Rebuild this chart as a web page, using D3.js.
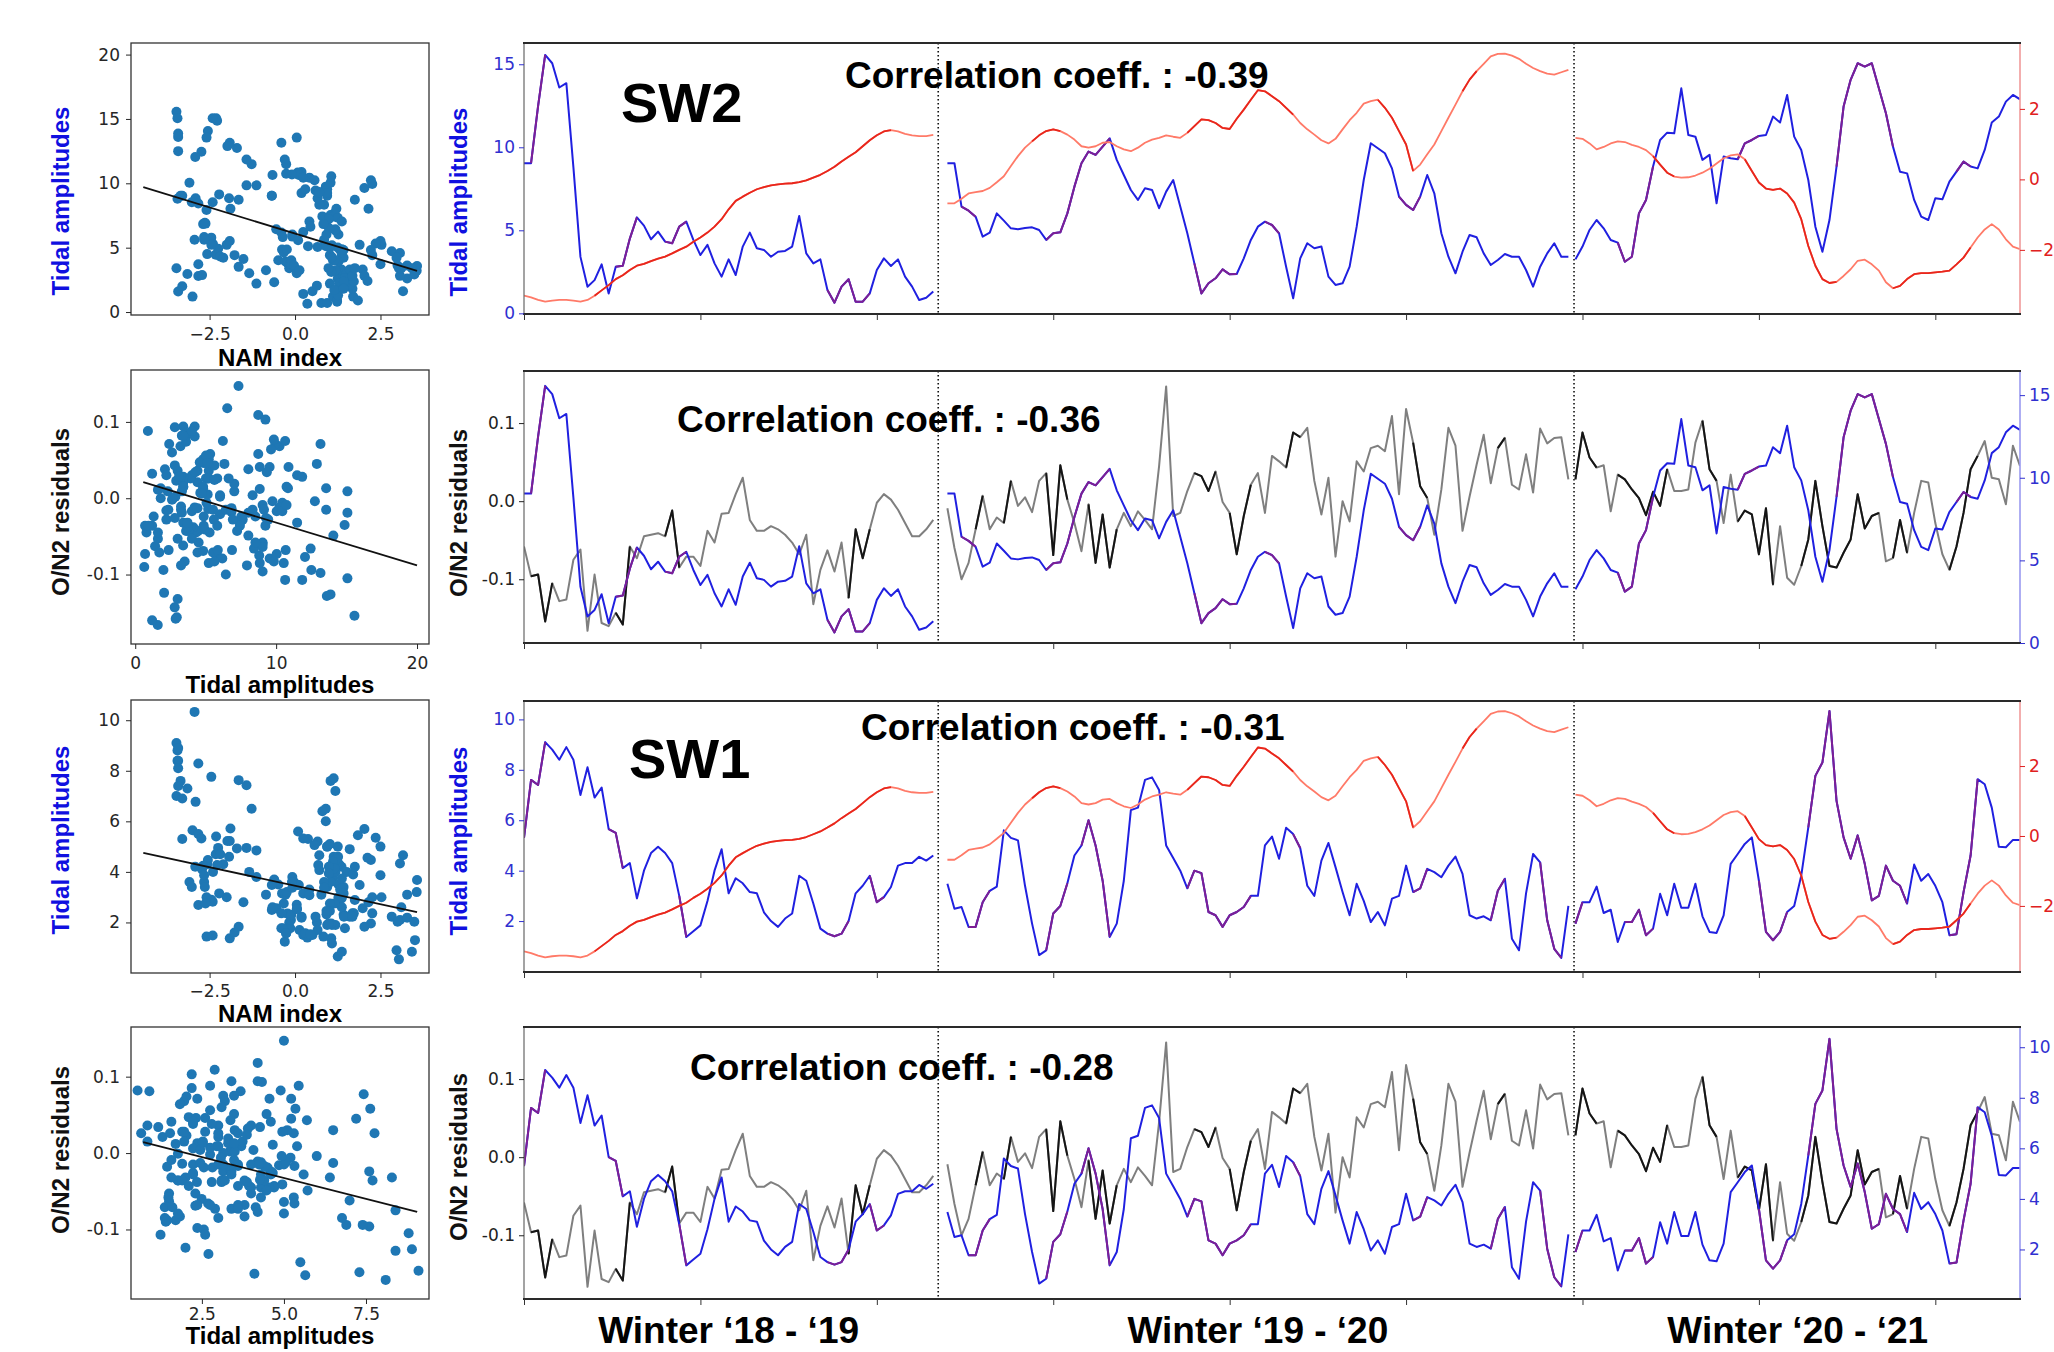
<!DOCTYPE html>
<html><head><meta charset="utf-8">
<script src="https://cdn.jsdelivr.net/npm/d3@7"></script>
<style>body{margin:0;background:#fff}svg{display:block}</style>
</head><body>
<svg id="chart" width="2054" height="1352"></svg>
<script>
// ---------------- DATA ----------------
// first sample index of each winter (samples are equally spaced)
const winterStart = [0, 60, 149];
const winterBreaks = [58.7, 148.8];
const winterLabels = ["Winter \u201818 - \u201819", "Winter \u201819 - \u201820", "Winter \u201820 - \u201821"];
const xTickValues = [0, 25, 50, 75, 100, 125, 150, 175, 200];

// SW2 tidal amplitudes, one array per winter
const sw2Amp = [
 [9.04,9.04,12.5,15.56,15.06,13.6,13.86,8.8,3.4,1.6,2.0,2.95,1.2,2.8,2.87,4.5,5.78,5.28,4.46,4.92,4.32,4.22,5.22,5.52,4.42,3.51,4.12,3.01,2.21,3.25,2.31,4.02,4.86,3.92,3.82,3.41,3.71,3.76,4.02,5.86,3.61,3.01,3.25,1.41,0.64,1.61,2.05,0.70,0.70,1.2,2.61,3.31,2.85,3.25,2.21,1.61,0.80,0.94,1.31],
 [9.04,9.04,6.43,6.18,5.82,4.62,4.86,6.02,5.58,5.12,5.06,5.14,5.18,5.02,4.42,4.82,4.88,6.02,7.63,9.04,9.74,9.54,10.04,10.54,9.24,8.33,7.43,6.83,7.53,7.43,6.33,7.33,8.03,6.43,4.82,3.01,1.20,1.81,2.11,2.65,2.35,2.37,3.31,4.42,5.22,5.52,5.32,4.82,2.81,0.90,3.31,4.22,3.92,4.02,2.21,1.71,1.81,2.81,5.22,8.03,10.24,9.94,9.64,8.73,7.03,6.53,6.22,7.03,8.33,7.23,4.82,3.41,2.41,3.71,4.72,4.58,3.61,2.91,3.21,3.57,3.41,3.41,2.61,1.61,2.81,3.61,4.22,3.41,3.41],
 [3.25,4.02,5.02,5.62,5.12,4.42,4.26,3.11,3.41,6.02,6.83,8.84,10.44,10.88,10.84,13.55,10.74,10.64,9.24,9.54,6.63,9.44,9.34,9.28,10.24,10.44,10.68,10.74,11.85,11.49,13.15,10.64,9.84,8.03,5.22,3.71,5.62,8.84,12.45,14.06,15.06,14.86,15.06,13.55,12.05,10.04,8.53,8.43,6.83,5.82,5.62,6.93,6.87,7.93,8.53,9.14,8.84,8.73,9.84,11.49,11.85,12.75,13.15,12.89]
];
// SW1 tidal amplitudes
const sw1Amp = [
 [5.3,7.6,7.4,9.1,8.8,8.4,8.9,8.4,7.0,8.1,6.9,7.3,5.65,5.5,4.1,4.3,2.9,4.0,4.7,4.95,4.7,4.3,3.0,1.37,1.6,1.83,2.8,4.0,4.85,3.1,3.7,3.5,3.15,3.1,2.35,2.0,1.77,2.1,2.3,3.8,3.6,2.7,1.7,1.5,1.4,1.5,2.0,3.1,3.4,3.8,2.75,2.95,3.35,4.2,4.3,4.3,4.55,4.4,4.6],
 [3.48,2.49,2.56,1.77,1.77,2.75,3.2,3.37,5.6,5.3,5.2,3.4,1.9,0.65,0.84,2.3,2.6,3.5,4.6,5.0,6.0,5.0,3.6,1.37,1.9,3.6,6.4,6.5,7.6,7.7,7.2,5.0,4.5,4.0,3.3,4.0,3.9,2.36,2.23,1.77,2.23,2.36,2.56,3.0,3.0,5.0,5.35,4.47,5.7,5.45,4.9,3.4,3.0,4.4,5.1,4.14,3.15,2.23,3.48,2.8,1.96,2.36,1.83,2.89,3.0,4.2,3.15,3.3,4.07,3.94,3.74,4.2,4.56,3.87,2.23,2.1,2.19,2.03,3.2,3.68,1.3,0.84,3.1,4.66,4.33,2.03,0.9,0.54,2.6],
 [1.9,2.75,2.75,3.37,2.32,2.45,1.17,1.96,1.96,2.45,1.44,1.7,3.08,2.23,3.48,2.53,2.53,3.48,2.19,1.57,1.53,2.23,4.27,4.66,5.06,5.32,3.6,1.57,1.24,1.57,2.36,2.6,3.8,5.72,7.76,8.29,10.33,6.77,5.32,4.47,5.4,4.27,2.82,3.0,4.2,3.6,3.4,2.69,4.24,3.6,3.87,3.4,2.75,1.44,1.48,3.15,4.6,7.63,7.43,6.5,4.95,4.93,5.22,5.22]
];
// NAM index
const namIndex = [
 [-3.30,-3.35,-3.42,-3.47,-3.44,-3.42,-3.42,-3.44,-3.47,-3.42,-3.30,-3.15,-3.00,-2.83,-2.72,-2.57,-2.45,-2.40,-2.32,-2.25,-2.19,-2.10,-2.00,-1.91,-1.77,-1.65,-1.51,-1.34,-1.13,-0.85,-0.61,-0.49,-0.38,-0.28,-0.22,-0.17,-0.14,-0.12,-0.11,-0.08,-0.03,0.05,0.13,0.24,0.36,0.51,0.64,0.77,0.94,1.11,1.25,1.36,1.40,1.36,1.29,1.25,1.23,1.23,1.26],
 [-0.68,-0.68,-0.55,-0.40,-0.36,-0.33,-0.24,-0.08,0.09,0.38,0.66,0.90,1.08,1.25,1.37,1.42,1.37,1.27,1.13,0.94,0.90,0.94,1.04,1.06,0.94,0.85,0.80,0.90,1.04,1.13,1.18,1.25,1.21,1.18,1.32,1.51,1.70,1.68,1.60,1.46,1.43,1.72,1.98,2.26,2.53,2.50,2.36,2.22,2.03,1.84,1.60,1.42,1.27,1.11,1.02,1.15,1.42,1.68,1.89,2.15,2.22,2.26,2.03,1.75,1.37,0.99,0.24,0.42,0.71,0.99,1.37,1.75,2.12,2.50,2.83,3.07,3.28,3.49,3.56,3.57,3.51,3.42,3.28,3.16,3.07,3.00,2.97,3.04,3.11],
 [1.18,1.15,1.02,0.85,0.92,1.02,1.08,1.06,0.98,0.92,0.83,0.66,0.42,0.19,0.08,0.05,0.06,0.11,0.19,0.30,0.45,0.60,0.68,0.71,0.57,0.24,-0.09,-0.26,-0.30,-0.26,-0.40,-0.66,-1.13,-1.89,-2.45,-2.83,-2.94,-2.91,-2.74,-2.55,-2.31,-2.28,-2.41,-2.59,-2.92,-3.09,-3.02,-2.83,-2.69,-2.66,-2.66,-2.64,-2.62,-2.59,-2.41,-2.22,-1.93,-1.65,-1.42,-1.27,-1.42,-1.70,-1.91,-1.98]
];
// O/N2 residuals
const on2Resid = [
 [-0.058,-0.096,-0.094,-0.154,-0.105,-0.128,-0.126,-0.075,-0.062,-0.166,-0.094,-0.156,-0.160,-0.143,-0.158,-0.058,-0.073,-0.045,-0.043,-0.041,-0.045,-0.012,-0.085,-0.071,-0.071,-0.083,-0.038,-0.053,-0.016,-0.015,0.009,0.030,-0.024,-0.038,-0.038,-0.032,-0.036,-0.043,-0.053,-0.068,-0.043,-0.132,-0.088,-0.063,-0.090,-0.053,-0.124,-0.036,-0.073,-0.036,-0.002,0.009,0.002,-0.011,-0.028,-0.045,-0.045,-0.036,-0.024],
 [-0.009,-0.060,-0.100,-0.079,-0.036,0.007,-0.036,-0.021,-0.028,0.026,-0.006,0.005,-0.014,0.026,0.036,-0.069,0.046,0.002,-0.028,-0.064,-0.004,-0.079,-0.017,-0.085,-0.036,-0.015,-0.032,-0.013,-0.024,-0.036,0.045,0.147,-0.019,-0.015,0.013,0.036,0.032,0.013,0.038,-0.001,-0.015,-0.068,-0.019,0.021,0.036,-0.015,0.058,0.051,0.043,0.088,0.082,0.094,0.026,-0.017,0.030,-0.071,0.000,-0.026,0.051,0.038,0.068,0.071,0.064,0.109,0.009,0.118,0.075,0.019,0.004,-0.043,0.015,0.094,0.071,-0.038,0.006,0.047,0.085,0.023,0.068,0.081,0.021,0.015,0.060,0.011,0.093,0.074,0.081,0.082,0.028],
 [0.028,0.088,0.056,0.043,0.046,-0.013,0.034,0.028,0.015,0.004,-0.018,0.012,-0.006,0.041,0.013,0.013,0.015,0.075,0.103,0.041,0.026,-0.028,0.034,-0.026,-0.012,-0.017,-0.068,-0.009,-0.107,-0.032,-0.098,-0.107,-0.083,-0.049,0.026,-0.032,-0.083,-0.085,-0.066,-0.049,0.009,-0.035,-0.019,-0.015,-0.077,-0.073,-0.024,-0.066,-0.015,0.026,0.024,-0.028,-0.068,-0.088,-0.058,-0.015,0.041,0.058,0.077,0.030,0.028,-0.004,0.071,0.045]
];
// sample ranges drawn in the second colour of each line
const sw2Shade = [[1,3],[13,16],[20,23],[43,49],[62,64],[74,83],[95,101],[105,107],[124,127],[155,160],[172,175],[186,194],[203,205]];
const sw1Shade = [[0,3],[12,14],[22,23],[43,46],[49,51],[63,66],[74,77],[79,83],[94,103],[109,110],[126,128],[137,139],[144,147],[149,150],[156,160],[175,179],[182,196],[202,206]];
const namShade = [[10,52],[72,76],[94,109],[121,126],[133,135],[160,163],[173,186],[194,205]];
const on2Shade = [[1,4],[13,15],[20,22],[46,49],[64,65],[68,69],[74,77],[80,84],[95,98],[100,103],[108,110],[126,128],[138,139],[149,152],[155,162],[167,169],[172,177],[181,192],[194,196],[202,206]];

const corrCoeffs = ["-0.39", "-0.36", "-0.31", "-0.28"];
const bandNames = ["SW2", "SW1"];
// regression lines: [[x0,y0],[x1,y1]]
const fitNamSw2 = [[-4.44, 9.7], [3.57, 3.2]];
const fitSw2On2 = [[0.57, 0.021], [20.0, -0.088]];
const fitNamSw1 = [[-4.44, 4.75], [3.57, 2.41]];
const fitSw1On2 = [[0.71, 0.0144], [9.06, -0.077]];

// ---------------- DRAWING ----------------
const svg = d3.select("#chart");
const FB = "'Liberation Sans', Arial, sans-serif";
const FT = "'DejaVu Sans', sans-serif";
const BLUE = "#2020e0", PURPLE = "#7d1f94", RED = "#e8261c", SALMON = "#ff7a68", GRAY = "#7f7f7f", BLACK = "#151515";
const LBLUE = "#1010e0", TBLUE = "#3030d0", TRED = "#e02020";

const toPts = segs => segs.map((vals, w) => vals.map((v, k) => ({i: winterStart[w] + k, v})));
const SW2 = toPts(sw2Amp), SW1 = toPts(sw1Amp), NAM = toPts(namIndex), ON2 = toPts(on2Resid);
const flat = segs => segs.flat();
const byI = arr => { const m = new Map(); flat(arr).forEach(p => m.set(p.i, p.v)); return m; };

const xIdx = d3.scaleLinear().domain([0, 212]).range([524, 2020]);
const minus = s => s.replace("\u2212", "-");

function drawSeries(g, segs, y, base, alt, shade, width) {
  const line = d3.line().x(d => xIdx(d.i)).y(d => y(d.v));
  segs.forEach(pts => {
    g.append("path").attr("d", line(pts)).attr("fill", "none").attr("stroke", base)
      .attr("stroke-width", width).attr("stroke-linejoin", "round");
    shade.forEach(([a, b]) => {
      const sub = pts.filter(p => p.i >= a && p.i <= b);
      if (sub.length > 1) g.append("path").attr("d", line(sub)).attr("fill", "none").attr("stroke", alt)
        .attr("stroke-width", width).attr("stroke-linejoin", "round");
    });
  });
}

function styleAxis(a, color, size) {
  a.select(".domain").remove();
  a.selectAll(".tick line").attr("stroke", color).attr("stroke-width", 1);
  a.selectAll(".tick text").attr("fill", color).style("font-family", FT).style("font-size", size + "px");
}

const series = {
  sw2: {pts: SW2, base: BLUE, alt: PURPLE, shade: sw2Shade, w: 2},
  sw1: {pts: SW1, base: BLUE, alt: PURPLE, shade: sw1Shade, w: 2},
  nam: {pts: NAM, base: SALMON, alt: RED, shade: namShade, w: 1.8},
  on2: {pts: ON2, base: GRAY, alt: BLACK, shade: on2Shade, w: 2}
};

const tsPanels = [
  {top: 43, bottom: 314,
   L: {s: "sw2", dom: [-0.04, 16.28], ticks: [0, 5, 10, 15], fmt: d3.format("d"), color: TBLUE, spine: "#666"},
   R: {s: "nam", dom: [-3.82, 3.87], ticks: [-2, 0, 2], fmt: d3.format("d"), color: TRED, spine: "#f09a9a"},
   ylabel: "Tidal amplitudes", ycol: LBLUE, ly: 202, corr: [845, 88], band: [621, 122]},
  {top: 371, bottom: 643,
   L: {s: "on2", dom: [-0.1816, 0.1667], ticks: [-0.1, 0, 0.1], fmt: v => minus(d3.format(".1f")(v)), color: "#222", spine: "#666"},
   R: {s: "sw2", dom: [0, 16.46], ticks: [0, 5, 10, 15], fmt: d3.format("d"), color: TBLUE, spine: "#9a9af0"},
   ylabel: "O/N2 residuals", ycol: "#111", ly: 513, corr: [677, 432]},
  {top: 701, bottom: 972,
   L: {s: "sw1", dom: [-0.02, 10.73], ticks: [2, 4, 6, 8, 10], fmt: d3.format("d"), color: TBLUE, spine: "#666"},
   R: {s: "nam", dom: [-3.89, 3.86], ticks: [-2, 0, 2], fmt: d3.format("d"), color: TRED, spine: "#f09a9a"},
   ylabel: "Tidal amplitudes", ycol: LBLUE, ly: 841, corr: [861, 740], band: [629, 778]},
  {top: 1027, bottom: 1299,
   L: {s: "on2", dom: [-0.1816, 0.1667], ticks: [-0.1, 0, 0.1], fmt: v => minus(d3.format(".1f")(v)), color: "#222", spine: "#666"},
   R: {s: "sw1", dom: [0.04, 10.8], ticks: [2, 4, 6, 8, 10], fmt: d3.format("d"), color: TBLUE, spine: "#9a9af0"},
   ylabel: "O/N2 residuals", ycol: "#111", ly: 1157, corr: [690, 1080]}
];

tsPanels.forEach((P, pi) => {
  const g = svg.append("g");
  const yL = d3.scaleLinear().domain(P.L.dom).range([P.bottom, P.top]);
  const yR = d3.scaleLinear().domain(P.R.dom).range([P.bottom, P.top]);
  const x0 = xIdx.range()[0], x1 = xIdx.range()[1];

  // correlation text (under the lines)
  g.append("text").attr("x", P.corr[0]).attr("y", P.corr[1])
    .style("font-family", FB).style("font-weight", "bold").style("font-size", "37px").attr("fill", "#000")
    .text("Correlation coeff. : " + corrCoeffs[pi]);
  if (P.band) g.append("text").attr("x", P.band[0]).attr("y", P.band[1])
    .style("font-family", FB).style("font-weight", "bold").style("font-size", "56px").attr("fill", "#000")
    .text(bandNames[pi === 0 ? 0 : 1]);

  // winter separators
  winterBreaks.forEach(b => g.append("line").attr("x1", xIdx(b)).attr("x2", xIdx(b))
    .attr("y1", P.top).attr("y2", P.bottom).attr("stroke", "#111").attr("stroke-width", 1.6)
    .attr("stroke-dasharray", "1.6,2.4"));

  const clip = "clipP" + pi;
  svg.append("clipPath").attr("id", clip).append("rect")
    .attr("x", x0).attr("y", P.top).attr("width", x1 - x0).attr("height", P.bottom - P.top);
  const lg = g.append("g").attr("clip-path", `url(#${clip})`);
  const sL = series[P.L.s], sR = series[P.R.s];
  drawSeries(lg, sL.pts, yL, sL.base, sL.alt, sL.shade, sL.w);
  drawSeries(lg, sR.pts, yR, sR.base, sR.alt, sR.shade, sR.w);

  // spines
  g.append("line").attr("x1", x0).attr("x2", x0).attr("y1", P.top).attr("y2", P.bottom).attr("stroke", P.L.spine).attr("stroke-width", 1.2);
  g.append("line").attr("x1", x1).attr("x2", x1).attr("y1", P.top).attr("y2", P.bottom).attr("stroke", P.R.spine).attr("stroke-width", 1.6);
  [P.top, P.bottom].forEach(yy => g.append("line").attr("x1", x0 - 1).attr("x2", x1 + 1).attr("y1", yy).attr("y2", yy)
    .attr("stroke", "#2a2a2a").attr("stroke-width", 2.2));

  // axes
  const aL = g.append("g").attr("transform", `translate(${x0},0)`)
    .call(d3.axisLeft(yL).tickValues(P.L.ticks).tickFormat(P.L.fmt).tickSize(5).tickPadding(4));
  styleAxis(aL, P.L.color, 17);
  const aR = g.append("g").attr("transform", `translate(${x1},0)`)
    .call(d3.axisRight(yR).tickValues(P.R.ticks).tickFormat(P.R.fmt).tickSize(5).tickPadding(4));
  styleAxis(aR, P.R.color, 17);
  const aB = g.append("g").attr("transform", `translate(0,${P.bottom})`)
    .call(d3.axisBottom(xIdx).tickValues(xTickValues).tickFormat("").tickSize(6));
  styleAxis(aB, "#333", 12);

  // y label
  g.append("text").attr("transform", `translate(467,${P.ly}) rotate(-90)`).attr("text-anchor", "middle")
    .style("font-family", FB).style("font-weight", "bold").style("font-size", "24px").attr("fill", P.ycol)
    .text(P.ylabel);
});

// winter labels (centred on each winter)
winterLabels.forEach((t, w) => {
  const segs = SW2[w];
  const mid = (segs[0].i + segs[segs.length - 1].i) / 2;
  svg.append("text").attr("x", xIdx(mid)).attr("y", 1343).attr("text-anchor", "middle")
    .style("font-family", FB).style("font-weight", "bold").style("font-size", "37px").attr("fill", "#000").text(t);
});

// ---------------- SCATTER PANELS ----------------
function pairs(a, b) {
  const ma = byI(a), mb = byI(b), out = [];
  ma.forEach((v, i) => { if (mb.has(i)) out.push([v, mb.get(i)]); });
  return out;
}
const f1 = d3.format(".1f"), fd = d3.format("d");
const scPanels = [
  {top: 43, bottom: 315, xs: NAM, ys: SW2, xd: [-4.8, 3.92], yd: [-0.23, 20.9], xt: [-2.5, 0, 2.5], xf: f1,
   yt: [0, 5, 10, 15, 20], yf: fd, fit: fitNamSw2, ylab: "Tidal amplitudes", ycol: LBLUE, ly: 201, xlab: "NAM index", xlb: 366, xtb: 340},
  {top: 370, bottom: 644, xs: SW2, ys: ON2, xd: [-0.3, 20.85], yd: [-0.191, 0.168], xt: [0, 10, 20], xf: fd,
   yt: [-0.1, 0, 0.1], yf: v => minus(f1(v)), fit: fitSw2On2, ylab: "O/N2 residuals", ycol: "#111", ly: 512, xlab: "Tidal amplitudes", xlb: 693, xtb: 669},
  {top: 700, bottom: 973, xs: NAM, ys: SW1, xd: [-4.8, 3.92], yd: [0, 10.8], xt: [-2.5, 0, 2.5], xf: f1,
   yt: [2, 4, 6, 8, 10], yf: fd, fit: fitNamSw1, ylab: "Tidal amplitudes", ycol: LBLUE, ly: 840, xlab: "NAM index", xlb: 1022, xtb: 997},
  {top: 1027, bottom: 1299, xs: SW1, ys: ON2, xd: [0.34, 9.42], yd: [-0.191, 0.165], xt: [2.5, 5, 7.5], xf: f1,
   yt: [-0.1, 0, 0.1], yf: v => minus(f1(v)), fit: fitSw1On2, ylab: "O/N2 residuals", ycol: "#111", ly: 1150, xlab: "Tidal amplitudes", xlb: 1344, xtb: 1320}
];
scPanels.forEach((P, pi) => {
  const L = 131, R = 429;
  const g = svg.append("g");
  const x = d3.scaleLinear().domain(P.xd).range([L, R]);
  const y = d3.scaleLinear().domain(P.yd).range([P.bottom, P.top]);
  const clip = "clipS" + pi;
  svg.append("clipPath").attr("id", clip).append("rect").attr("x", L).attr("y", P.top).attr("width", R - L).attr("height", P.bottom - P.top);
  const pg = g.append("g").attr("clip-path", `url(#${clip})`);
  pg.selectAll("circle").data(pairs(P.xs, P.ys)).join("circle")
    .attr("cx", d => x(d[0])).attr("cy", d => y(d[1])).attr("r", 5).attr("fill", "#1f77b4");
  pg.append("path").attr("d", d3.line().x(d => x(d[0])).y(d => y(d[1]))(P.fit))
    .attr("stroke", "#111").attr("stroke-width", 1.8).attr("fill", "none");
  g.append("rect").attr("x", L).attr("y", P.top).attr("width", R - L).attr("height", P.bottom - P.top)
    .attr("fill", "none").attr("stroke", "#333").attr("stroke-width", 1.3);
  const ax = g.append("g").attr("transform", `translate(0,${P.bottom})`)
    .call(d3.axisBottom(x).tickValues(P.xt).tickFormat(P.xf).tickSize(5).tickPadding(5));
  styleAxis(ax, "#262626", 17);
  ax.selectAll(".tick text").attr("y", P.xtb - P.bottom).attr("dy", 0);
  const ay = g.append("g").attr("transform", `translate(${L},0)`)
    .call(d3.axisLeft(y).tickValues(P.yt).tickFormat(P.yf).tickSize(5).tickPadding(6));
  styleAxis(ay, "#262626", 17);
  g.append("text").attr("transform", `translate(69,${P.ly}) rotate(-90)`).attr("text-anchor", "middle")
    .style("font-family", FB).style("font-weight", "bold").style("font-size", "24px").attr("fill", P.ycol).text(P.ylab);
  g.append("text").attr("x", (L + R) / 2).attr("y", P.xlb).attr("text-anchor", "middle")
    .style("font-family", FB).style("font-weight", "bold").style("font-size", "24px").attr("fill", "#000").text(P.xlab);
});
</script>
</body></html>
